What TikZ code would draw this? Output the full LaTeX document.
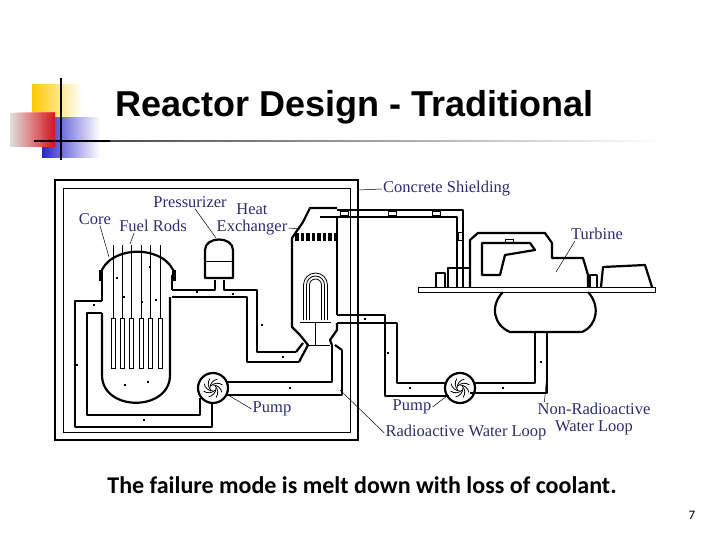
\documentclass[tikz,border=0pt]{standalone}
\usepackage{fontspec}
\setmainfont{Liberation Serif}
\newfontfamily\titlefont{Liberation Sans}
\newfontfamily\capfont{Carlito}
\usetikzlibrary{shadings}
\definecolor{lblue}{RGB}{45,45,110}
\definecolor{logored}{RGB}{250,20,30}
\definecolor{logoyel}{RGB}{255,200,0}
\definecolor{logoblu}{RGB}{40,40,200}
\begin{document}
\begin{tikzpicture}[x=1pt,y=-1pt,
  pipe/.style={line width=2.2pt,line join=round},
  thin/.style={line width=0.8pt},
  lbl/.style={font=\fontsize{16.5}{16}\selectfont,text=lblue,inner sep=1pt},
  lead/.style={line width=0.5pt},
  flow/.style={fill=black,inner sep=0pt,minimum size=2.5pt}]
\useasboundingbox (0,0) rectangle (720,540);
% logo
\fill[left color=logoyel,right color=white] (32,85) rectangle (82,120);
\fill[left color=logoblu,right color=white] (42,118) rectangle (100,158);
\fill[left color=white,right color=logored,opacity=0.85] (10,113) rectangle (55,147);
\draw[line width=2pt] (61,78) -- (61,160);
\draw[line width=1.5pt] (34,141) -- (110,141);
\shade[left color=black!70,right color=white] (110,140.3) rectangle (660,141.7);
\node[font=\titlefont\bfseries\fontsize{36}{37}\selectfont,anchor=west] (title) at (112,107) {Reactor Design - Traditional};
% shielding
\draw[line width=1.5pt] (55,180) rectangle (358,440);
\draw[thin] (63,188) rectangle (350,432);
% reactor vessel
\draw[pipe] (102,313) -- (102,375) .. controls (102,412) and (170,412) .. (170,375) -- (170,297);
\draw[pipe] (100,275) .. controls (108,244) and (167,244) .. (175,275);
\draw[pipe] (102,275) -- (102,301);
\draw[pipe] (172,275) -- (172,290);
\fill (99,270) rectangle (103,281);
\fill (172,270) rectangle (176,281);
\foreach \i in {0,...,5}{
  \draw[thin] ({113+9.4*\i},245) -- ({113+9.4*\i},318);
  \draw[thin] ({111+9.4*\i},318) rectangle ({115+9.4*\i},368);}
% downcomer and cold leg
\draw[pipe] (102,301) -- (75,301) -- (75,427) -- (212,427) -- (212,404);
\draw[pipe] (102,313) -- (87,313) -- (87,415) -- (200,415) -- (200,398);
% pump 1
\draw[pipe] (213,388) circle (15);
\foreach \a in {0,45,...,315}{\draw[thin] (213,388) ++(\a:3) arc[start angle=\a,end angle=\a+80,radius=9];}
\draw[pipe] (226,382) -- (332,382) -- (332,345);
\draw[pipe] (226,395) -- (342,395) -- (342,350);
% hot leg and pressurizer
\draw[pipe] (172,290) -- (215,290) -- (215,280);
\draw[pipe] (224,280) -- (224,290) -- (257,290) -- (257,352) -- (296,352);
\draw[pipe] (172,297) -- (247,297) -- (247,362) -- (299,362);
\draw[pipe] (205,278) -- (205,250) .. controls (205,236) and (233,236) .. (233,250) -- (233,278) -- cycle;
\draw[thin] (205,261) -- (233,261);
% heat exchanger
\draw[pipe] (299,362) -- (308,345) -- (300,335) -- (292,327) -- (292,238) -- (303,222) -- (310,208) -- (337,208);
\draw[pipe] (296,352) -- (303,343);
\draw[pipe] (337,217) -- (337,315);
\draw[pipe] (337,323) -- (337,330) -- (330,340) -- (332,345);
\draw[pipe] (342,350) -- (335,345);
\draw[thin] (308,345) -- (330,345);
\foreach \i in {0,...,7}{\fill ({295+5.5*\i},233) rectangle ({298.5+5.5*\i},241);}
\foreach \r in {6,9,12}{\draw[thin] ({315.5-\r},320) -- ({315.5-\r},285) arc (180:360:\r) -- ({315.5+\r},320);}
\draw[thin] (300,322) -- (331,322);
\draw[thin] (315.5,322) -- (315.5,345);
% steam line
\draw[pipe] (337,210) -- (463,210) -- (463,287);
\draw[pipe] (320,217) -- (457,217) -- (457,287);
\foreach \x in {340,388,432}{\draw[thin] (\x,211.5) rectangle (\x+8,215.5);}
\draw[thin] (458,232) rectangle (462,240);
% turbine
\draw[thin] (418,287) rectangle (655,292);
\draw[pipe] (436,287) -- (436,273) -- (445,273) -- (445,287);
\draw[pipe] (448,287) -- (448,268) -- (470,268) -- (470,287);
\draw[pipe] (470,287) -- (470,240) -- (478,233) -- (545,233) -- (552,243) -- (552,258) -- (583,258) -- (588,275) -- (588,287);
\draw[pipe] (482,275) -- (482,243) -- (530,243) -- (535,250) -- (505,255) -- (500,275) -- cycle;
\draw[thin] (505,239) rectangle (513,243);
\draw[pipe] (590,287) -- (590,275) -- (597,275) -- (597,287);
\draw[pipe] (601,287) -- (603,267) -- (645,265) -- (652,287);
% condenser
\draw[pipe] (503,292) .. controls (490,305) and (493,325) .. (510,332) -- (582,332) .. controls (598,325) and (600,305) .. (588,292);
\draw[pipe] (535,332) -- (535,383) -- (473,383);
\draw[pipe] (547,332) -- (547,393) -- (470,393);
% pump 2
\draw[pipe] (460,388) circle (15);
\foreach \a in {0,45,...,315}{\draw[thin] (460,388) ++(\a:3) arc[start angle=\a,end angle=\a+80,radius=9];}
\draw[pipe] (447,383) -- (397,383) -- (397,323) -- (337,323);
\draw[pipe] (449,396) -- (385,396) -- (385,315) -- (337,315);
% flow marks
\foreach \p in {(94,305),(77,365),(144,420),(197,292),(233,294),(262,325),(283,357),(290,388),(365,319),(388,353),(410,388),(503,388),(541,362),(142,302),(124,297),(156,300),(117,278),(150,267),(125,385),(148,382)}{\node[flow] at \p {};}
% labels
\node[lbl,anchor=west] (shield) at (382,189) {Concrete Shielding};
\coordinate (shieldend) at (358,190);
\draw[lead] (shield.west) -- (shieldend);
\node[lbl] (press) at (190,202) {Pressurizer};
\coordinate (pressend) at (216,238);
\draw[lead] (press.south) ++(5,0) -- (pressend);
\node[lbl] (hx1) at (252,209) {Heat};
\node[lbl] (hx2) at (252,228) {Exchanger};
\coordinate (hxend) at (300,229);
\draw[lead] (hx2.east) -- (hxend);
\node[lbl] (core) at (95,219) {Core};
\coordinate (coreend) at (109,257);
\draw[lead] (core.south) ++(5,0) -- (coreend);
\node[lbl] (rods) at (153,226) {Fuel Rods};
\coordinate (rodsend) at (130,244);
\draw[lead] (rods.south west) ++(16,0) -- (rodsend);
\node[lbl] (turb) at (597,234) {Turbine};
\coordinate (turbend) at (556,272);
\draw[lead] (turb.south west) ++(5,0) -- (turbend);
\node[lbl] (pump1) at (272,409) {Pump};
\coordinate (pump1end) at (228,395);
\draw[lead] (pump1.west) -- (pump1end);
\node[lbl] (pump2) at (412,407) {Pump};
\coordinate (pump2end) at (447,396);
\draw[lead] (pump2.east) -- (pump2end);
\node[lbl] (radloop) at (466,433) {Radioactive Water Loop};
\coordinate (radend) at (340,390);
\draw[lead] (radloop.west) -- (radend);
\node[lbl] (nonrad1) at (594,409) {Non-Radioactive};
\node[lbl] (nonrad2) at (594,428) {Water Loop};
\coordinate (nonradend) at (547,372);
\draw[lead] (nonrad1.north west) ++(8,0) -- (nonradend);
% caption
\node[font=\capfont\bfseries\fontsize{24}{25}\selectfont] (caption) at (362,485) {The failure mode is melt down with loss of coolant.};
\node[font=\capfont\fontsize{13}{14}\selectfont] (pagenum) at (692,515) {7};
\end{tikzpicture}
\end{document}
